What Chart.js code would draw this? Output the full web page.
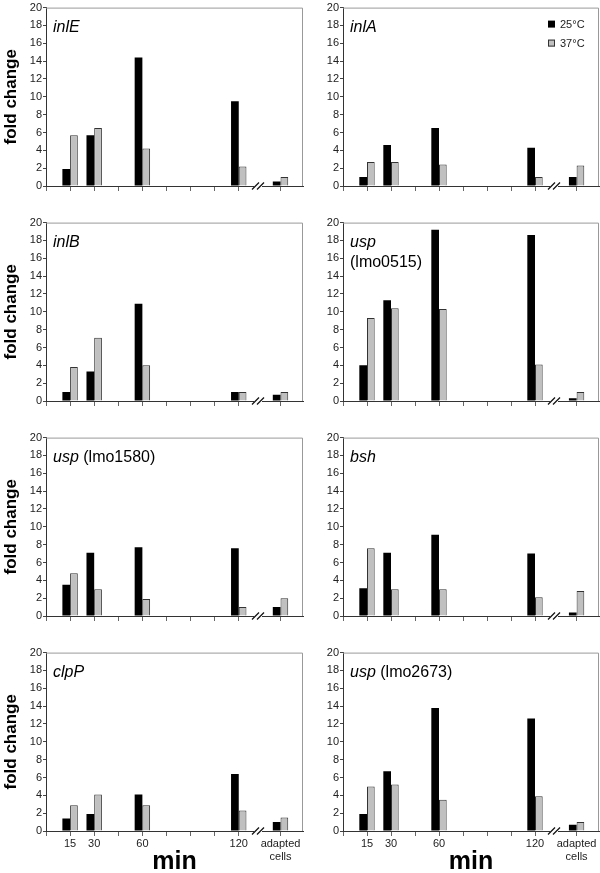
<!DOCTYPE html>
<html><head><meta charset="utf-8">
<script src="https://cdn.jsdelivr.net/npm/chart.js@4/dist/chart.umd.min.js"></script>
<style>
html,body{margin:0;padding:0;background:#fff;width:600px;height:873px;overflow:hidden}
#wrap{position:relative;width:600px;height:873px;background:#fff}
canvas{position:absolute}
</style></head><body><div id="wrap"></div>
<script>
// ---- data ----
const timePoints = [15, 30, 60, 120, 146];              // x value of each bar pair (146 = adapted cells, after axis break)
const tickValues = [0, 15, 30, 45, 60, 75, 90, 105, 120, 146];
const tickTexts  = ['', '15', '30', '', '60', '', '', '', '120', ['adapted', 'cells']];
const breakAt = 132;
const seriesNames = ['25°C', '37°C'];

const inlE_25 = [1.9, 5.7, 14.4, 9.5, 0.5];
const inlE_37 = [5.7, 6.5, 4.2, 2.2, 1.0];
const inlA_25 = [1.0, 4.6, 6.5, 4.3, 1.0];
const inlA_37 = [2.7, 2.7, 2.4, 1.0, 2.3];
const inlB_25 = [1.0, 3.3, 10.9, 1.0, 0.7];
const inlB_37 = [3.8, 7.1, 4.0, 1.0, 1.0];
const lmo0515_25 = [4.0, 11.3, 19.2, 18.6, 0.3];
const lmo0515_37 = [9.3, 10.4, 10.3, 4.1, 1.0];
const lmo1580_25 = [3.5, 7.1, 7.7, 7.6, 1.0];
const lmo1580_37 = [4.8, 3.0, 1.9, 1.0, 2.0];
const bsh_25 = [3.1, 7.1, 9.1, 7.0, 0.4];
const bsh_37 = [7.6, 3.0, 3.0, 2.1, 2.8];
const clpP_25 = [1.4, 1.9, 4.1, 6.4, 1.0];
const clpP_37 = [2.9, 4.1, 2.9, 2.3, 1.5];
const lmo2673_25 = [1.9, 6.7, 13.8, 12.6, 0.7];
const lmo2673_37 = [5.0, 5.2, 3.5, 3.9, 1.0];

// gene labels: lines of [text, italic]
const panels = [
  {label: [[['inlE', true]]], d25: inlE_25, d37: inlE_37, row: 0, col: 0},
  {label: [[['inlA', true]]], d25: inlA_25, d37: inlA_37, row: 0, col: 1, legend: true},
  {label: [[['inlB', true]]], d25: inlB_25, d37: inlB_37, row: 1, col: 0},
  {label: [[['usp', true]], [['(lmo0515)', false]]], d25: lmo0515_25, d37: lmo0515_37, row: 1, col: 1},
  {label: [[['usp', true], [' (lmo1580)', false]]], d25: lmo1580_25, d37: lmo1580_37, row: 2, col: 0},
  {label: [[['bsh', true]]], d25: bsh_25, d37: bsh_37, row: 2, col: 1},
  {label: [[['clpP', true]]], d25: clpP_25, d37: clpP_37, row: 3, col: 0},
  {label: [[['usp', true], [' (lmo2673)', false]]], d25: lmo2673_25, d37: lmo2673_37, row: 3, col: 1},
];

// ---- layout ----
const FONT = "'Liberation Sans', Arial, Helvetica, sans-serif";
Chart.defaults.font.family = FONT;
const rowTop = [0, 215, 430, 645];
const rowH = [215, 215, 215, 228];
const padTop = [5, 6, 6, 5];
const plotH = [181, 180, 180, 181];
const colLeft = [0, 306];
const colW = [306, 294];
const yW = [46, 37];
const padRight = [3, 1];

const decor = {
  id: 'decor',
  afterDraw(chart, args, o) {
    const {ctx, chartArea: a} = chart;
    const x = chart.scales.x;
    ctx.save();
    // frame (top, right)
    ctx.strokeStyle = '#999';
    ctx.lineWidth = 1;
    ctx.beginPath();
    ctx.moveTo(a.left, a.top + 0.5);
    ctx.lineTo(a.right - 0.5, a.top + 0.5);
    ctx.lineTo(a.right - 0.5, a.bottom);
    ctx.stroke();
    // axis break
    const bx = Math.round(x.getPixelForValue(breakAt));
    const by = a.bottom;
    ctx.fillStyle = '#fff';
    ctx.fillRect(bx - 4, by - 2, 8, 3);
    ctx.strokeStyle = '#111';
    ctx.lineWidth = 1.2;
    for (const dx of [-2.5, 2.5]) {
      ctx.beginPath();
      ctx.moveTo(bx + dx - 3.5, by + 3.5);
      ctx.lineTo(bx + dx + 3.5, by - 3.5);
      ctx.stroke();
    }
    // gene label
    ctx.fillStyle = '#000';
    ctx.textBaseline = 'alphabetic';
    ctx.textAlign = 'left';
    o.label.forEach((line, li) => {
      let tx = a.left + 7;
      const ty = a.top + 24 + li * 20;
      line.forEach(([t, it]) => {
        ctx.font = (it ? 'italic ' : '') + '16px ' + FONT;
        ctx.fillText(t, tx, ty);
        tx += ctx.measureText(t).width;
      });
    });
    // legend
    if (o.legend) {
      chart.data.datasets.forEach((ds, i) => {
        const sy = a.top + 13 + i * 19;
        const sx = a.right - 51;
        ctx.fillStyle = ds.backgroundColor;
        ctx.fillRect(sx, sy, 7, 7);
        if (ds.borderWidth) {
          ctx.strokeStyle = ds.borderColor;
          ctx.lineWidth = 1;
          ctx.strokeRect(sx + 0.5, sy + 0.5, 6, 6);
        }
        ctx.fillStyle = '#222';
        ctx.font = '11px ' + FONT;
        ctx.textBaseline = 'middle';
        ctx.fillText(ds.label, sx + 12, sy + 4);
      });
    }
    ctx.restore();
  }
};

const wrap = document.getElementById('wrap');
panels.forEach(p => {
  const c = document.createElement('canvas');
  const r = p.row, col = p.col;
  c.width = colW[col];
  c.height = rowH[r];
  c.style.left = colLeft[col] + 'px';
  c.style.top = rowTop[r] + 'px';
  c.style.width = colW[col] + 'px';
  c.style.height = rowH[r] + 'px';
  wrap.appendChild(c);
  const xH = rowH[r] - padTop[r] - plotH[r];
  const bottomRow = r === 3;
  new Chart(c, {
    type: 'bar',
    data: {
      datasets: [
        {label: seriesNames[0], data: timePoints.map((t, i) => ({x: t, y: p.d25[i]})),
         backgroundColor: '#000000', borderWidth: 0},
        {label: seriesNames[1], data: timePoints.map((t, i) => ({x: t, y: p.d37[i]})),
         backgroundColor: '#c0c0c0', borderColor: '#333333', borderWidth: 1}
      ]
    },
    options: {
      responsive: false,
      animation: false,
      devicePixelRatio: 1,
      categoryPercentage: 0.64,
      barPercentage: 1.0,
      layout: {padding: {top: padTop[r], right: padRight[col], left: 0, bottom: 0}},
      plugins: {
        legend: {display: false},
        tooltip: {enabled: false},
        decor: {label: p.label, legend: !!p.legend}
      },
      scales: {
        x: {
          type: 'linear', min: 0, max: 160, offset: false,
          afterBuildTicks: s => { s.ticks = tickValues.map(v => ({value: v})); },
          afterFit: s => { s.height = xH; },
          grid: {offset: false, drawOnChartArea: false, drawTicks: true, tickLength: 5, color: '#666'},
          border: {display: true, color: '#333', width: 1},
          ticks: {
            autoSkip: false, maxRotation: 0, minRotation: 0, padding: 2,
            color: '#222', font: {size: 11, lineHeight: 1.15},
            callback: (v, i) => bottomRow ? tickTexts[i] : ''
          },
          title: bottomRow
            ? {display: true, text: 'min', color: '#000', font: {size: 25, weight: 'bold', lineHeight: 1}, padding: {top: 0, bottom: -2}}
            : {display: false}
        },
        y: {
          min: 0, max: 20,
          afterFit: s => { s.width = yW[col]; },
          grid: {drawOnChartArea: false, drawTicks: true, tickLength: 3, color: '#444'},
          border: {display: true, color: '#333', width: 1},
          ticks: {stepSize: 2, padding: 1, color: '#222', font: {size: 11}},
          title: col === 0
            ? {display: true, text: 'fold change', color: '#000', font: {size: 17, weight: 'bold'}, padding: {top: 1, bottom: 0}}
            : {display: false}
        }
      }
    },
    plugins: [decor]
  });
});
</script>
</body></html>
